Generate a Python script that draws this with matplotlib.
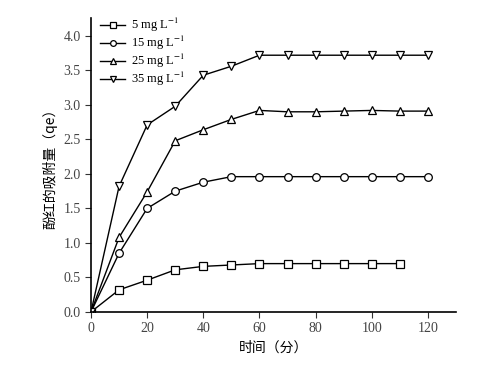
import matplotlib
matplotlib.use('Agg')
import matplotlib.pyplot as plt

# data
t_5 = [0, 10, 20, 30, 40, 50, 60, 70, 80, 90, 100, 110]
q_5 = [0, 0.32, 0.46, 0.61, 0.66, 0.68, 0.70, 0.70, 0.70, 0.70, 0.70, 0.70]
t_all = [0, 10, 20, 30, 40, 50, 60, 70, 80, 90, 100, 110, 120]
q_15 = [0, 0.85, 1.50, 1.75, 1.88, 1.96, 1.96, 1.96, 1.96, 1.96, 1.96, 1.96, 1.96]
q_25 = [0, 1.08, 1.74, 2.48, 2.64, 2.79, 2.92, 2.90, 2.90, 2.91, 2.92, 2.91, 2.91]
q_35 = [0, 1.82, 2.71, 2.98, 3.43, 3.56, 3.72, 3.72, 3.72, 3.72, 3.72, 3.72, 3.72]
labels = ['5 mg L$^{-1}$', '15 mg L$^{-1}$', '25 mg L$^{-1}$', '35 mg L$^{-1}$']

plt.rcParams['font.family'] = ['Liberation Serif', 'DejaVu Serif']
plt.rcParams['mathtext.fontset'] = 'stix'

fig = plt.figure(figsize=(5, 3.74), dpi=100)
ax = fig.add_axes([0.182, 0.166, 0.73, 0.786])

series = [(t_5, q_5, 's'), (t_all, q_15, 'o'), (t_all, q_25, '^'), (t_all, q_35, 'v')]
for (t, q, m), lab in zip(series, labels):
    ax.plot(t, q, color='black', lw=1, marker=m, ms=5.5, mfc='white', mec='black', mew=0.9, label=lab)

ax.set_xlim(0, 130)
ax.set_ylim(0, 4.26)
ax.set_xticks(range(0, 121, 20))
ax.set_yticks([0, 0.5, 1.0, 1.5, 2.0, 2.5, 3.0, 3.5, 4.0])
ax.set_yticklabels(['%.1f' % v for v in ax.get_yticks()])
ax.spines['top'].set_visible(False)
ax.spines['right'].set_visible(False)
ax.tick_params(direction='out', length=4, labelsize=10, colors='#333333', labelcolor='#444444')
for s in ['left', 'bottom']:
    ax.spines[s].set_linewidth(1.2)

cjk = ['Noto Sans CJK SC', 'DejaVu Sans']
ax.set_xlabel('时间（分）', family=cjk, fontsize=10)
ax.set_ylabel('酚红的吸附量（qe）', family=cjk, fontsize=10)

ax.legend(loc='upper left', frameon=False, fontsize=9, handlelength=2.0,
          borderaxespad=0.1, labelspacing=0.0, handletextpad=0.5,
          borderpad=0.2, markerscale=0.75, bbox_to_anchor=(0.015, 1.02))

fig.savefig('out.png', dpi=100)
